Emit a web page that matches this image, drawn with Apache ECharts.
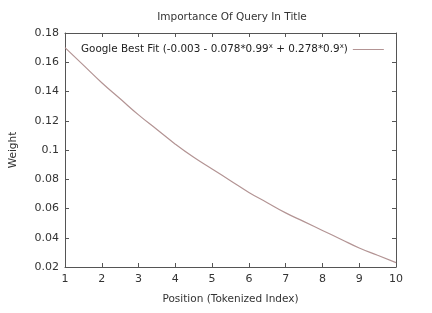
<!DOCTYPE html>
<html>
<head>
<meta charset="utf-8">
<script src="https://cdn.jsdelivr.net/npm/echarts@6/dist/echarts.min.js"></script>
<style>
html, body { margin: 0; padding: 0; background: #fff; }
#chart { width: 432px; height: 313px; }
</style>
</head>
<body>
<div id="chart"></div>
<script>
// position values
var positions = [1, 1.5, 2, 2.5, 3, 3.5, 4, 4.5, 5, 5.5, 6, 6.5, 7, 7.5, 8, 8.5, 9, 9.5, 10];
var weights = [0.170, 0.158, 0.146, 0.135, 0.124, 0.114, 0.104, 0.095, 0.087, 0.079,
               0.071, 0.064, 0.057, 0.051, 0.045, 0.039, 0.033, 0.028, 0.023];
var seriesName = 'Google Best Fit';

var points = positions.map(function (x, i) { return [x, weights[i]]; });

var font = 'DejaVu Sans';
var axisColor = '#555';
var lineColor = '#b39494';

var box = echarts.init(document.getElementById('chart'));
var option = {
    animation: false,
    textStyle: { fontFamily: font },
    title: {
        text: 'Importance Of Query In Title',
        left: 227,
        textAlign: 'center',
        top: 7,
        textStyle: { fontSize: 10.5, fontWeight: 'normal', color: '#333', fontFamily: font }
    },
    legend: {
        data: [seriesName],
        left: 76,
        top: 38,
        align: 'right',
        icon: 'rect',
        itemWidth: 31,
        itemHeight: 1,
        formatter: function () {
            return 'Google Best Fit (-0.003 - 0.078*0.99{sup|x} + 0.278*0.9{sup|x})';
        },
        textStyle: {
            fontSize: 10.4,
            color: '#222',
            fontFamily: font,
            rich: {
                sup: { fontSize: 7, verticalAlign: 'top', padding: [0, 0, 6, 0], fontFamily: font, color: '#222' }
            }
        }
    },
    grid: { left: 65, right: 36, top: 33, bottom: 46 },
    xAxis: [
        {
            type: 'value',
            min: 1,
            max: 10,
            interval: 1,
            name: 'Position (Tokenized Index)',
            nameLocation: 'middle',
            nameGap: 27,
            nameTextStyle: { fontSize: 10.5, color: '#333' },
            axisLine: { lineStyle: { color: axisColor } },
            axisTick: { inside: true, length: 4, lineStyle: { color: axisColor } },
            axisLabel: { fontSize: 11, color: '#333', margin: 7 },
            splitLine: { show: false }
        },
        {
            type: 'value',
            position: 'top',
            min: 1,
            max: 10,
            interval: 1,
            axisLine: { lineStyle: { color: axisColor } },
            axisTick: { inside: true, length: 4, lineStyle: { color: axisColor } },
            axisLabel: { show: false },
            splitLine: { show: false }
        }
    ],
    yAxis: [
        {
            type: 'value',
            min: 0.02,
            max: 0.18,
            interval: 0.02,
            name: 'Weight',
            nameLocation: 'middle',
            nameGap: 46,
            nameTextStyle: { fontSize: 10.5, color: '#333' },
            axisLine: { show: true, lineStyle: { color: axisColor } },
            axisTick: { show: true, inside: true, length: 4, lineStyle: { color: axisColor } },
            axisLabel: { fontSize: 11, color: '#333', margin: 6 },
            splitLine: { show: false }
        },
        {
            type: 'value',
            position: 'right',
            min: 0.02,
            max: 0.18,
            interval: 0.02,
            axisLine: { show: true, lineStyle: { color: axisColor } },
            axisTick: { show: true, inside: true, length: 4, lineStyle: { color: axisColor } },
            axisLabel: { show: false },
            splitLine: { show: false }
        }
    ],
    series: [
        {
            name: seriesName,
            type: 'line',
            data: points,
            smooth: true,
            symbol: 'none',
            color: lineColor,
            lineStyle: { width: 1.2, color: lineColor }
        }
    ]
};
box.setOption(option);
</script>
</body>
</html>
